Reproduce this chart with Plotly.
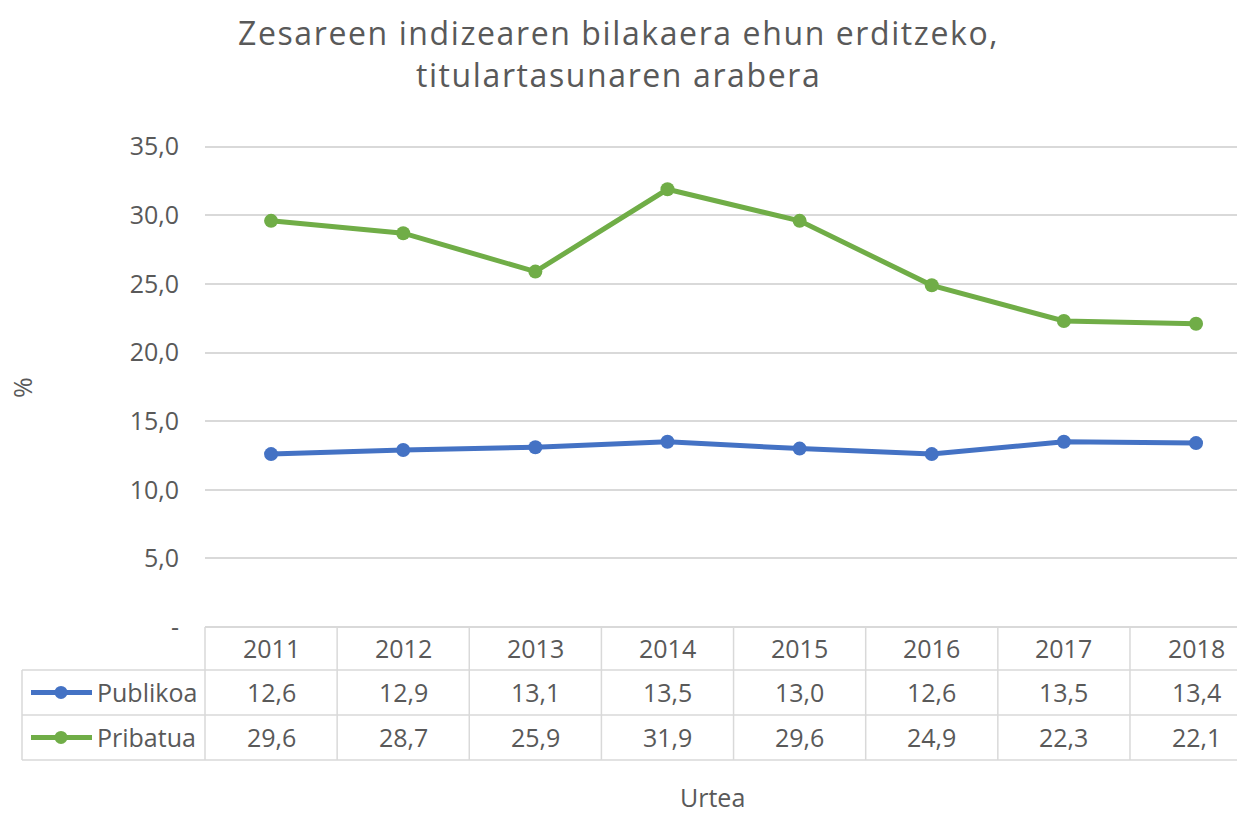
import plotly.graph_objects as go

years = ["2011", "2012", "2013", "2014", "2015", "2016", "2017", "2018"]
publikoa = [12.6, 12.9, 13.1, 13.5, 13.0, 12.6, 13.5, 13.4]
pribatua = [29.6, 28.7, 25.9, 31.9, 29.6, 24.9, 22.3, 22.1]
series_names = ["Publikoa", "Pribatua"]
y_ticks = [0, 5, 10, 15, 20, 25, 30, 35]

BLUE = "#4472C4"
GREEN = "#70AD47"
TXT = "#595959"
GRID = "#D9D9D9"
FONT = "Open Sans"
FS = 25

W, H = 1237, 815
ML, MR, MT, MB = 205, 0, 130, 50
PH = H - MT - MB
YMIN, YMAX = -10.06, 36.22
XMIN, XMAX = -0.5, 7.31

ROW_B = [0, -3.13, -6.41, -9.69]
ROW_C = [(ROW_B[i] + ROW_B[i + 1]) / 2 for i in range(3)]

def yp(v):
    return (v - YMIN) / (YMAX - YMIN)

def yp_px(py):
    return (H - MB - py) / PH

def xp(px):
    return (px - ML) / (W - ML - MR)

def fmt(v):
    return f"{v:.1f}".replace(".", ",")

fig = go.Figure()
for name, vals, col in [(series_names[0], publikoa, BLUE), (series_names[1], pribatua, GREEN)]:
    fig.add_trace(go.Scatter(
        x=list(range(len(years))), y=vals, name=name, mode="lines+markers",
        line=dict(color=col, width=5), marker=dict(color=col, size=14),
        showlegend=False,
    ))

shapes = []
line_style = dict(color=GRID, width=1.5)
shapes.append(dict(type="line", xref="paper", yref="paper", x0=0, x1=1,
                   y0=yp(ROW_B[0]), y1=yp(ROW_B[0]), line=line_style))
for b in ROW_B[1:]:
    shapes.append(dict(type="line", xref="paper", yref="paper", x0=xp(22), x1=1,
                       y0=yp(b), y1=yp(b), line=line_style))
shapes.append(dict(type="line", xref="paper", yref="paper", x0=0, x1=0,
                   y0=yp(ROW_B[0]), y1=yp(ROW_B[3]), line=line_style))
for i in range(len(years) - 1):
    shapes.append(dict(type="line", xref="x", yref="paper", x0=i + 0.5, x1=i + 0.5,
                       y0=yp(ROW_B[0]), y1=yp(ROW_B[3]), line=line_style))
shapes.append(dict(type="line", xref="paper", yref="paper", x0=xp(22), x1=xp(22),
                   y0=yp(ROW_B[1]), y1=yp(ROW_B[3]), line=line_style))

annotations = []
for i, yr in enumerate(years):
    for txt, rc in [(yr, ROW_C[0]), (fmt(publikoa[i]), ROW_C[1]), (fmt(pribatua[i]), ROW_C[2])]:
        annotations.append(dict(x=i, y=rc, xref="x", yref="y", text=txt, showarrow=False,
                                xanchor="center", yanchor="middle",
                                font=dict(family=FONT, size=FS, color=TXT)))

for name, col, rc in [(series_names[0], BLUE, ROW_C[1]), (series_names[1], GREEN, ROW_C[2])]:
    shapes.append(dict(type="line", xref="paper", yref="paper", x0=xp(31), x1=xp(92),
                       y0=yp(rc), y1=yp(rc), line=dict(color=col, width=5)))
    shapes.append(dict(type="circle", xref="paper", yref="paper", xsizemode="pixel", ysizemode="pixel",
                       xanchor=xp(61), yanchor=yp(rc), x0=-6.5, x1=6.5, y0=-6.5, y1=6.5,
                       fillcolor=col, line=dict(color=col, width=0)))
    annotations.append(dict(x=xp(95), y=yp(rc), xref="paper", yref="paper", text=name,
                            showarrow=False, xanchor="left", yanchor="middle",
                            font=dict(family=FONT, size=FS, color=TXT)))

annotations.append(dict(x=xp(712), y=yp_px(815), xref="paper", yref="paper", text="Urtea",
                        showarrow=False, xanchor="center", yanchor="bottom", borderpad=0,
                        font=dict(family=FONT, size=FS, color=TXT)))
annotations.append(dict(x=xp(22), y=yp_px(388), xref="paper", yref="paper", text="%",
                        showarrow=False, textangle=-90, xanchor="center", yanchor="middle",
                        font=dict(family=FONT, size=FS, color=TXT)))
title_lines = ["Zesareen indizearen bilakaera ehun erditzeko,", "titulartasunaren arabera"]
annotations.append(dict(x=xp(618), y=yp_px(54), xref="paper", yref="paper",
                        text="<br>".join(f'<span style="letter-spacing:1.6px">{t}</span>' for t in title_lines),
                        showarrow=False, xanchor="center", yanchor="middle",
                        font=dict(family=FONT, size=32, color=TXT)))

fig.update_layout(
    width=W, height=H,
    margin=dict(l=ML, r=MR, t=MT, b=MB),
    paper_bgcolor="white", plot_bgcolor="white",
    shapes=shapes, annotations=annotations,
    xaxis=dict(range=[XMIN, XMAX], showgrid=False, zeroline=False, showticklabels=False,
               showline=False, fixedrange=True),
    yaxis=dict(range=[YMIN, YMAX], tickvals=y_ticks,
               ticktext=["-"] + [fmt(v) for v in y_ticks[1:]],
               showgrid=True, gridcolor=GRID, gridwidth=1.5, zeroline=False, showline=False,
               ticklabelstandoff=25,
               tickfont=dict(family=FONT, size=FS, color=TXT)),
)

fig.write_html("out.html")
